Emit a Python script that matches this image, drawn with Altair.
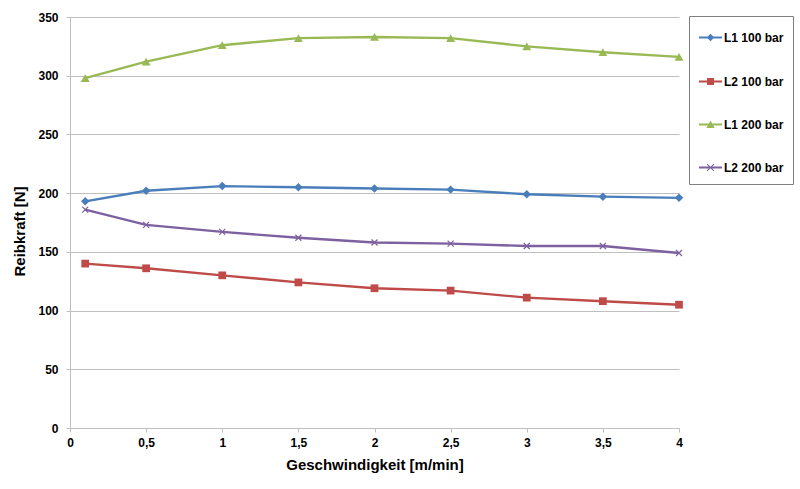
import altair as alt
import pandas as pd

# Measured friction force per speed step, one list per series
speed = [0.1, 0.5, 1, 1.5, 2, 2.5, 3, 3.5, 4]
series_names = ["L1 100 bar", "L2 100 bar", "L1 200 bar", "L2 200 bar"]
l1_100 = [193, 202, 206, 205, 204, 203, 199, 197, 196]
l2_100 = [140, 136, 130, 124, 119, 117, 111, 108, 105]
l1_200 = [298, 312, 326, 332, 333, 332, 325, 320, 316]
l2_200 = [186, 173, 167, 162, 158, 157, 155, 155, 149]
series_values = [l1_100, l2_100, l1_200, l2_200]

x_ticks = [0, 0.5, 1, 1.5, 2, 2.5, 3, 3.5, 4]
y_ticks = [0, 50, 100, 150, 200, 250, 300, 350]

colors = ["#4A7EBB", "#BE4B48", "#98B954", "#7D60A0"]

# Plot markers: (shape, size, filled)
X_PATH = "M-1,-1L1,1M-1,1L1,-1"
markers = [("diamond", 72, True), ("square", 60, True), ("triangle-up", 80, True), (X_PATH, 36, False)]

# Legend glyphs: a short line segment with the series marker on top
BAR = "M-1,-0.09H1V0.09H-1Z"
legend_paths = [
    BAR + "M0,-0.33L0.33,0L0,0.33L-0.33,0Z",
    BAR + "M-0.3,-0.3H0.3V0.3H-0.3Z",
    BAR + "M0,-0.34L0.36,0.3H-0.36Z",
    BAR + "M-0.268,-0.332L0.332,0.268L0.268,0.332L-0.332,-0.268Z"
          "M-0.332,0.268L0.268,-0.332L0.332,-0.268L-0.268,0.332Z",
]

rows = []
for name, vals in zip(series_names, series_values):
    for s, v in zip(speed, vals):
        rows.append({"series": name, "speed": s, "force": v})
df = pd.DataFrame(rows)

FONT = "Liberation Sans"
GRAY = "#BFBFBF"

# Scales for the drawn lines/markers (alphabetical domain) and for the legend (series order)
color_of = dict(zip(series_names, colors))
mark_domain = sorted(series_names)
mark_range = [color_of[n] for n in mark_domain]


def mark_scale():
    return alt.Scale(domain=mark_domain, range=mark_range)


x_enc = alt.X(
    "speed:Q",
    scale=alt.Scale(domain=[0, 4], nice=False),
    axis=alt.Axis(
        values=x_ticks,
        labelExpr="replace(toString(datum.value), '.', ',')",
        grid=False,
        tickSize=4,
        tickColor=GRAY,
        domainColor=GRAY,
        labelPadding=5,
        labelFlush=False,
        title="Geschwindigkeit [m/min]",
        titlePadding=9,
    ),
)
y_enc = alt.Y(
    "force:Q",
    scale=alt.Scale(domain=[0, 350], nice=False),
    axis=alt.Axis(
        values=y_ticks,
        grid=True,
        gridColor=GRAY,
        tickSize=4,
        tickColor=GRAY,
        domainColor=GRAY,
        labelPadding=8,
        title="Reibkraft [N]",
        titlePadding=10,
        titleY=214,
    ),
)

base = alt.Chart(df)

# Series lines (stroke channel, no legend of their own)
lines = base.mark_line(strokeWidth=2.4).encode(
    x=x_enc, y=y_enc,
    stroke=alt.Stroke("series:N", scale=mark_scale(), legend=None),
)

# Markers, one layer per series
point_layers = []
for name, (shape, size, filled) in zip(series_names, markers):
    layer = base.transform_filter(alt.datum.series == name).mark_point(
        shape=shape, size=size, filled=filled, opacity=1, strokeWidth=1.2
    )
    if filled:
        enc = {"fill": alt.Fill("series:N", scale=mark_scale(), legend=None)}
    else:
        enc = {"stroke": alt.Stroke("series:N", scale=mark_scale(), legend=None)}
    point_layers.append(layer.encode(x="speed:Q", y="force:Q", **enc))

legend_def = alt.Legend(
    title=None,
    orient="none",
    legendX=619,
    legendY=-1,
    symbolSize=529,
    symbolOpacity=1,
    rowPadding=24,
    labelOffset=1,
    padding=9,
    strokeColor="#7F7F7F",
    fillColor="white",
    labelFont=FONT,
    labelFontSize=12,
    labelFontWeight="bold",
    labelColor="black",
)

# Empty layer that only carries the legend (line + marker glyphs)
legend_layer = base.transform_filter("false").mark_point(
    filled=True, size=529, opacity=1
).encode(
    x="speed:Q", y="force:Q",
    color=alt.Color("series:N", scale=alt.Scale(domain=series_names, range=colors), legend=legend_def),
    shape=alt.Shape("series:N", scale=alt.Scale(domain=series_names, range=legend_paths), legend=legend_def),
)

chart = alt.layer(lines, *point_layers, legend_layer).properties(
    width=609,
    height=411,
    autosize=alt.AutoSizeParams(type="none"),
    padding={"left": 70, "top": 17, "right": 121, "bottom": 61},
    background="white",
).configure_view(
    strokeWidth=0
).configure_axis(
    labelFont=FONT,
    labelFontSize=12,
    labelFontWeight="bold",
    labelColor="black",
    titleFont=FONT,
    titleFontSize=15,
    titleFontWeight="bold",
    titleColor="black",
)

chart.save("out.html", embed_options={"renderer": "svg", "actions": False})
